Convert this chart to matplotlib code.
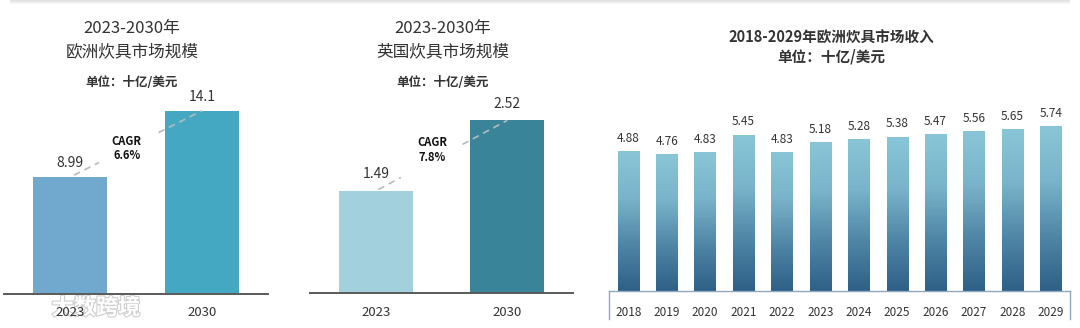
import numpy as np
import matplotlib
matplotlib.use("Agg")
import matplotlib.pyplot as plt
import matplotlib.patheffects as pe
from matplotlib.colors import LinearSegmentedColormap

plt.rcParams['font.family'] = ['Noto Sans CJK SC', 'DejaVu Sans']

# ---- data ----
eu_years = ["2023", "2030"]
eu_values = [8.99, 14.1]
eu_cagr = "6.6%"

uk_years = ["2023", "2030"]
uk_values = [1.49, 2.52]
uk_cagr = "7.8%"

rev_years = ["2018", "2019", "2020", "2021", "2022", "2023",
             "2024", "2025", "2026", "2027", "2028", "2029"]
rev_values = [4.88, 4.76, 4.83, 5.45, 4.83, 5.18,
              5.28, 5.38, 5.47, 5.56, 5.65, 5.74]

unit_text = "单位：十亿/美元"

W, H = 1080, 328
fig = plt.figure(figsize=(W / 100, H / 100), dpi=100)
fig.patch.set_facecolor("white")


def px_axes(left, right, base, top):
    """Axes placed by pixel edges (top-left origin), transparent background."""
    ax = fig.add_axes([left / W, (H - base) / H, (right - left) / W, (base - top) / H])
    ax.patch.set_visible(False)
    return ax


def fig_text(x, y, s, **kw):
    fig.text(x / W, 1 - y / H, s, ha="center", va="center", **kw)


TXT = "#333333"

# faint card shadow along the top edge
sh = fig.add_axes([10 / W, (H - 5) / H, 1060 / W, 5 / H])
grad = np.linspace(0.88, 1.0, 5).reshape(-1, 1) * np.ones((5, 50))
sh.imshow(grad, cmap="gray", vmin=0, vmax=1, aspect="auto", interpolation="bilinear")
sh.axis("off")


def two_bar_panel(left, right, base, top, ymax, years, values, colors, cagr,
                  cx, title2, label_off, cagr_y, seg):
    ax = px_axes(left, right, base, top)
    x = np.arange(len(values))
    ax.bar(x, values, width=0.56, color=colors, zorder=2)
    ax.set_xlim(-0.5, 1.5)
    ax.set_ylim(0, ymax)
    for s in ["top", "right", "left"]:
        ax.spines[s].set_visible(False)
    ax.spines["bottom"].set_color("#5a5a5a")
    ax.spines["bottom"].set_linewidth(1.4)
    ax.set_yticks([])
    ax.set_xticks(x)
    ax.set_xticklabels(years, fontsize=9.5, color=TXT)
    ax.tick_params(axis="x", length=0, pad=9)
    for xi, v in zip(x, values):
        ax.annotate(f"{v:g}", (xi, v), xytext=(0, label_off), textcoords="offset points",
                    ha="center", va="center", fontsize=10, color=TXT)
    # dashed growth line between bar tops, broken around the CAGR label
    for t0, t1 in seg:
        xs = [x[0] + t0 * (x[1] - x[0]), x[0] + t1 * (x[1] - x[0])]
        ys = [values[0] + t0 * (values[1] - values[0]), values[0] + t1 * (values[1] - values[0])]
        ax.plot(xs, ys, ls=(0, (4, 3)), color="#b3bcc0", lw=1.2, zorder=3)
    ax.text(0.43, cagr_y, f"CAGR\n{cagr}", ha="center", va="center", fontsize=8,
            fontweight="bold", color="#111111", linespacing=1.15)
    fig_text(cx, 29, "2023-2030年", fontsize=12, color=TXT)
    fig_text(cx, 52, title2, fontsize=12, color=TXT)
    fig_text(cx, 82, unit_text, fontsize=9, fontweight="bold", color=TXT)
    return ax


# panel 1: Europe
two_bar_panel(4, 268, 294, 90, (294 - 90) / 13.0, eu_years, eu_values,
              ["#70a9cd", "#45a8c3"], eu_cagr, 132, "欧洲炊具市场规模",
              10, 11.2, [(0.03, 0.22), (0.67, 1.0)])

# panel 2: UK
two_bar_panel(310, 573, 293, 90, (293 - 90) / 68.5, uk_years, uk_values,
              ["#a2d1dd", "#3a8499"], uk_cagr, 443, "英国炊具市场规模",
              12, 2.09, [(0.02, 0.19), (0.66, 1.0)])

# panel 3: yearly revenue with gradient bars
ax3 = px_axes(609, 1070, 291, 100)
cmap = LinearSegmentedColormap.from_list("bar", ["#2f6087", "#4f86a6", "#79b4ca", "#88c6d7"])
gvals = np.linspace(0, 1, 256).reshape(-1, 1)
bw = 0.55
for i, v in enumerate(rev_values):
    ax3.imshow(gvals, cmap=cmap, origin="lower", aspect="auto",
               extent=(i - bw / 2, i + bw / 2, 0, v), zorder=2, interpolation="bilinear")
    ax3.annotate(f"{v:.2f}", (i, v), xytext=(0, 9.5), textcoords="offset points",
                 ha="center", va="center", fontsize=8.5, color=TXT)
ax3.set_xlim(-0.5, len(rev_values) - 0.5)
ax3.set_ylim(0, (291 - 100) / 28.6)
for s in ["top", "right", "left"]:
    ax3.spines[s].set_visible(False)
box_c = "#8fa8bb"
ax3.spines["bottom"].set_color(box_c)
ax3.spines["bottom"].set_linewidth(1.0)
ax3.set_yticks([])
ax3.set_xticks(range(len(rev_years)))
ax3.set_xticklabels(rev_years, fontsize=8.5, color=TXT)
ax3.tick_params(axis="x", length=0, pad=11)
# boxed label strip under the axis
drop = 28 / (291 - 100)
for xe in (0, 1):
    ax3.plot([xe, xe], [0, -drop], transform=ax3.transAxes, color=box_c, lw=1.0,
             clip_on=False)
fig_text(831, 38, "2018-2029年欧洲炊具市场收入", fontsize=10.5, fontweight="bold", color=TXT)
fig_text(831, 57, unit_text, fontsize=10.5, fontweight="bold", color=TXT)

# watermark, drawn beneath the axes so the year label stays readable
fig_text(96, 308, "大数跨境", fontsize=16, fontweight="bold", color="white",
         path_effects=[pe.withStroke(linewidth=1.6, foreground="#cfcfcf")],
         zorder=-1)

fig.savefig("out.png", dpi=100, facecolor="white")
